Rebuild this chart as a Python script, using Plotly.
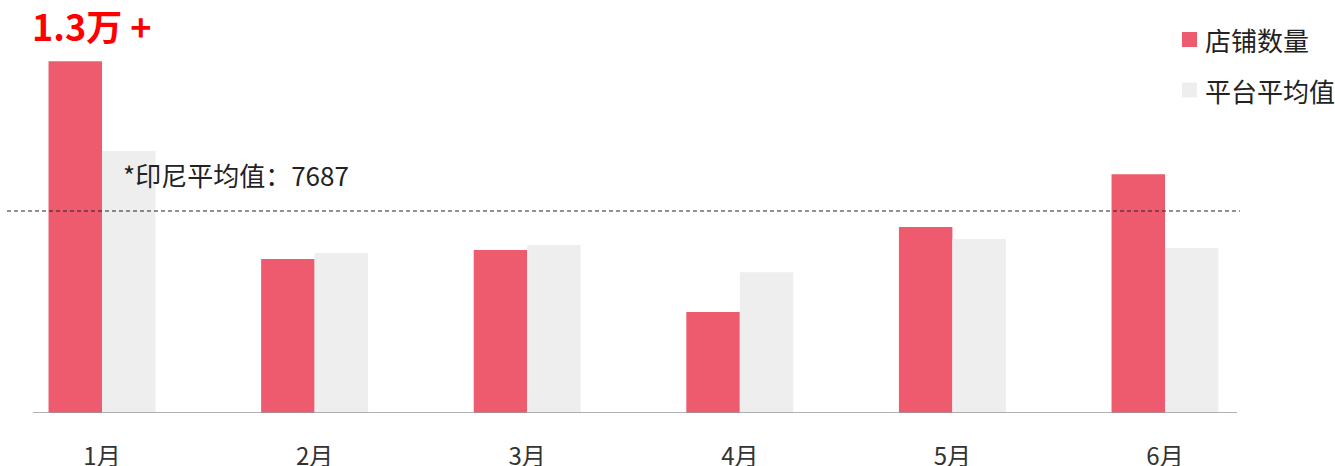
import plotly.graph_objects as go

months = ["1月", "2月", "3月", "4月", "5月", "6月"]
store_counts = [13390, 5860, 6200, 3840, 7080, 9090]
platform_avg = [9970, 6090, 6390, 5360, 6620, 6280]
indonesia_avg = 7687
series_names = ["店铺数量", "平台平均值"]
headline = "1.3万 +"
avg_label = "*印尼平均值：7687"

RED = "#EF5B6E"
GRAY = "#EEEEEE"
FONT = "Noto Sans CJK SC"
colors = [RED, GRAY]

x_idx = list(range(len(months)))

fig = go.Figure()
for name, vals, col in zip(series_names, [store_counts, platform_avg], colors):
    fig.add_trace(go.Bar(x=x_idx, y=vals, name=name,
                         marker=dict(color=col, line=dict(width=0))))

W, H = 1335, 466
px_per_unit = 212.6
x0 = -102 / px_per_unit
x1 = x0 + W / px_per_unit
y_top = 413 * indonesia_avg / 202

# axis baseline
fig.add_shape(type="line", xref="x", yref="y",
              x0=(33 - 102) / px_per_unit, x1=(1237 - 102) / px_per_unit,
              y0=0, y1=0, line=dict(color="#999999", width=1.5))
# average dashed line
fig.add_shape(type="line", xref="x", yref="y",
              x0=(7 - 102) / px_per_unit, x1=(1240 - 102) / px_per_unit,
              y0=indonesia_avg, y1=indonesia_avg,
              line=dict(color="#222222", width=1, dash="4px,3px"))

fig.add_annotation(xref="x", yref="y", x=(121 - 102) / px_per_unit, y=indonesia_avg,
                   text=avg_label, showarrow=False, xanchor="left", yanchor="middle",
                   yshift=37, font=dict(family=FONT, size=26, color="#222222"))

fig.add_annotation(xref="paper", yref="paper", x=30 / W, y=1, yshift=-25,
                   text="<b>" + headline + "</b>", showarrow=False,
                   xanchor="left", yanchor="middle",
                   font=dict(family=FONT, size=36, color="#FF0000"))

# legend drawn manually (the reference lets its last label run off the edge)
plot_h = 413
legend_rows = [39.5, 90]
for name, col, yc in zip(series_names, colors, legend_rows):
    fig.add_shape(type="rect", xref="paper", yref="paper",
                  x0=1182 / W, x1=1197 / W,
                  y0=1 - (yc + 7.5) / plot_h, y1=1 - (yc - 7.5) / plot_h,
                  fillcolor=col, line=dict(width=0))
    fig.add_annotation(xref="paper", yref="paper", x=1203 / W, y=1 - yc / plot_h,
                       text=name, showarrow=False, xanchor="left", yanchor="middle",
                       font=dict(family=FONT, size=26, color="#222222"))

fig.update_layout(
    width=W, height=H,
    margin=dict(l=0, r=0, t=0, b=H - plot_h, autoexpand=False),
    paper_bgcolor="white", plot_bgcolor="white",
    barmode="group", bargap=0.497, bargroupgap=0,
    showlegend=False,
    xaxis=dict(range=[x0, x1], tickvals=x_idx, ticktext=months,
               showgrid=False, zeroline=False, showline=False, ticks="",
               ticklabelstandoff=27, automargin=False,
               tickfont=dict(family=FONT, size=24, color="#333333"),
               fixedrange=True),
    yaxis=dict(range=[0, y_top], showgrid=False, zeroline=False,
               showticklabels=False, showline=False, fixedrange=True),
    font=dict(family=FONT),
)

fig.write_html(
    "out.html",
    config={"displayModeBar": False, "responsive": False},
    post_script=(
        "document.body.style.margin='0px';"
        "document.body.style.overflow='hidden';"
        "Plotly.relayout('{plot_id}', {width: 1335, height: 466});"
    ),
)
